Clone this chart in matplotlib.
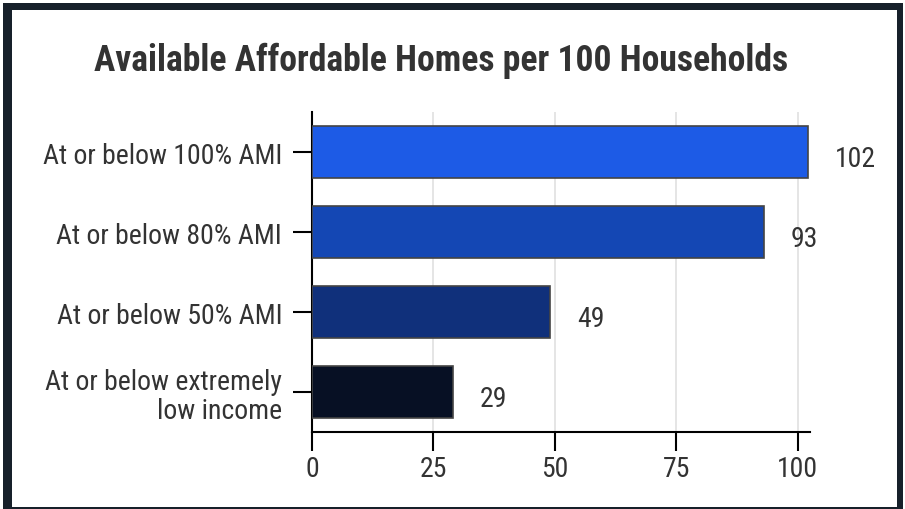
import matplotlib
matplotlib.use("Agg")
import matplotlib.pyplot as plt
from matplotlib.patches import Rectangle

#  Chart data
categories = [ "At or below 100% AMI", "At or below 80% AMI", "At or below 50% AMI", "At or below extremely\nlow income" ]
values = [ 102, 93, 49, 29 ]
bar_colours = [ "#1d5be6", "#1447b4", "#10307b", "#071024" ]
x_ticks = [ 0, 25, 50, 75, 100 ]
title = "Available Affordable Homes per 100 Households"

font = [ "Roboto Condensed", "Liberation Sans Narrow", "Roboto", "DejaVu Sans" ]
text_colour = "#333333"
frame_colour = "#17202a"

W, H = 905, 510
fig = plt.figure( figsize = ( W / 100, H / 100 ), dpi = 100 )
fig.patch.set_facecolor( "white" )

#  Dark frame round the chart (drawn under the axes)
fig.patches.append( Rectangle( ( 3 / W, 0 ), 900 / W, 506 / H, transform = fig.transFigure, facecolor = frame_colour, edgecolor = "none", zorder = -2 ) )
fig.patches.append( Rectangle( ( 12 / W, 2 / H ), 885 / W, 497 / H, transform = fig.transFigure, facecolor = "white", edgecolor = "none", zorder = -1 ) )

ax = fig.add_axes( [ 312 / W, 1 - 433 / H, 498 / W, 320 / H ] )
ax.set_facecolor( "none" )

ypos = list( range( len( categories ) ) )
ax.barh( ypos, values, height = 0.65, color = bar_colours, edgecolor = "#444444", linewidth = 1.2, zorder = 3 )

#  Value labels, a little to the right of each bar
for y, v in zip( ypos, values ):
  ax.annotate( str( v ), ( v, y ), xytext = ( 19.5, -5 ), textcoords = "offset points",
               ha = "left", va = "center", fontsize = 20, color = text_colour, family = font )

ax.set_xlim( 0, 102.5 )
ax.set_ylim( len( categories ) - 0.5, -0.5 )
ax.set_xticks( x_ticks )
ax.set_yticks( ypos )
ax.set_yticklabels( categories )
ax.grid( axis = "x", color = "#e0e0e0", linewidth = 1.2, zorder = 0 )
ax.set_axisbelow( True )

for s in [ "top", "right" ]:
  ax.spines[ s ].set_visible( False )
for s in [ "left", "bottom" ]:
  ax.spines[ s ].set_linewidth( 1.5 )
  ax.spines[ s ].set_color( "black" )

ax.tick_params( axis = "both", length = 13.5, width = 1.5, color = "black", labelsize = 20, labelcolor = text_colour )
ax.tick_params( axis = "y", pad = 8 )
ax.tick_params( axis = "x", pad = 3 )
for lbl in ax.get_xticklabels() + ax.get_yticklabels():
  lbl.set_family( font )
  lbl.set_linespacing( 1.1 )

fig.text( 441 / W, 1 - 61 / H, title, ha = "center", va = "center", fontsize = 25.7,
          fontweight = "bold", color = text_colour, family = font )

fig.savefig( "out.png", dpi = 100 )
